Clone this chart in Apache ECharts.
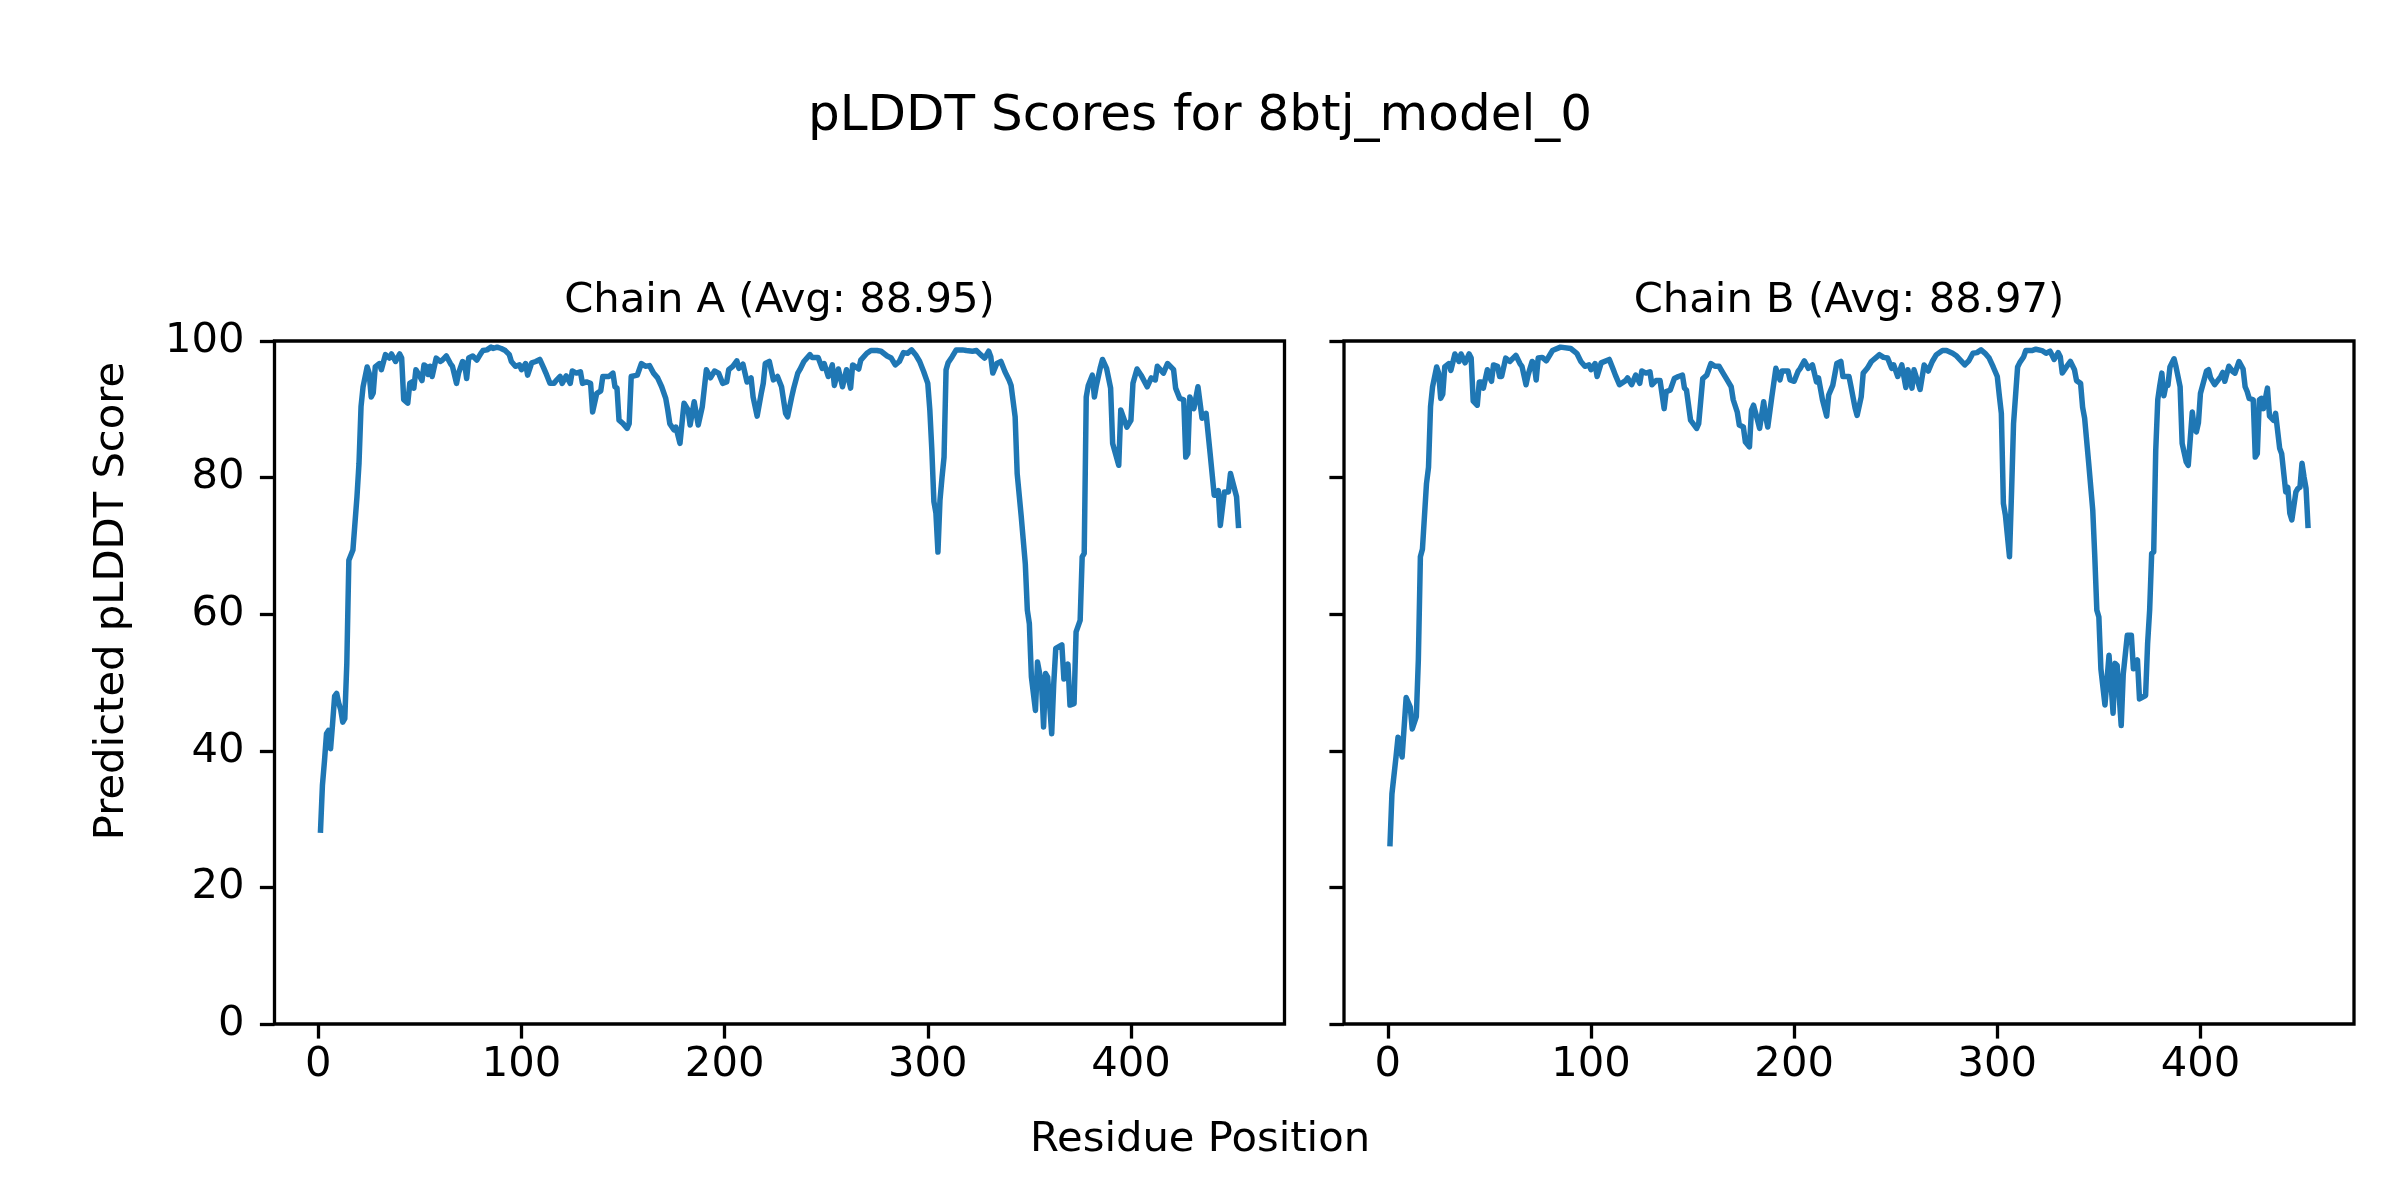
<!DOCTYPE html>
<html>
<head>
<meta charset="utf-8">
<script src="https://cdn.jsdelivr.net/npm/echarts@6/dist/echarts.min.js"></script>
<style>
html,body{margin:0;padding:0;background:#fff;}
#chart{width:2400px;height:1200px;}
</style>
</head>
<body>
<div id="chart"></div>
<script>
const figTitle = 'pLDDT Scores for 8btj_model_0';
const chainTitles = ['Chain A (Avg: 88.95)', 'Chain B (Avg: 88.97)'];
const xLabel = 'Residue Position';
const yLabel = 'Predicted pLDDT Score';
const xTicks = [0, 100, 200, 300, 400];
const yTicks = [0, 20, 40, 60, 80, 100];

// [residue, pLDDT]
const chainA = [[1,28],[2,35],[3,38.5],[4,42.5],[5,43],[6,40.3],[7,44],[8,48],[9,48.4],[10,47],[11,46],[12,44.2],[13,44.7],[14,52.8],[15,67.9],[17,69.4],[19,77.2],[20,82.1],[21,90.4],[22,93.3],[24,96.2],[25,95.3],[26,91.8],[27,92.4],[28,96.2],[30,96.7],[31,95.8],[33,98],[35,97.5],[36,98.1],[38,97],[40,98.1],[41,97.5],[42,91.4],[44,90.9],[45,93.8],[46,94],[47,93.1],[48,95.8],[50,94.8],[51,94.2],[52,96.5],[53,96.3],[54,95.1],[55,96.3],[56,94.8],[58,97.5],[60,97],[61,97.2],[63,97.8],[65,96.7],[66,96.3],[68,93.8],[69,95.3],[71,97],[72,96.7],[73,94.5],[74,97.5],[76,97.8],[78,97.2],[80,98.2],[81,98.6],[83,98.7],[85,99.1],[86,98.9],[88,99.1],[90,98.9],[92,98.6],[94,98],[95,97],[97,96.3],[99,96.5],[100,95.8],[102,96.7],[103,95],[105,96.8],[107,97],[109,97.3],[111,96],[112,95.3],[114,93.8],[116,93.8],[117,94.2],[119,94.8],[120,93.8],[122,94.9],[124,93.8],[125,95.6],[127,95.3],[129,95.5],[130,93.8],[132,94],[134,93.8],[135,89.6],[137,92.3],[139,92.7],[140,94.8],[143,94.8],[145,95.3],[146,93.3],[147,93.1],[148,88.4],[150,87.9],[152,87.2],[153,87.9],[154,94.8],[157,95],[159,96.7],[161,96.3],[163,96.4],[165,95.3],[167,94.6],[169,93.3],[171,91.6],[172,89.9],[173,87.9],[175,87],[176,87.4],[178,85],[180,90.9],[182,89.9],[183,87.7],[185,91.1],[187,87.7],[189,90.4],[191,95.8],[193,94.6],[195,95.6],[197,95.3],[199,93.8],[201,94],[202,95.8],[204,96.3],[206,97.1],[207,96],[209,96.6],[211,94],[213,94.6],[214,91.8],[216,89],[218,92.3],[219,93.8],[220,96.7],[222,97],[224,94.3],[226,94.8],[228,93.3],[230,89.4],[231,88.9],[233,91.8],[234,93.1],[236,95.3],[237,95.8],[239,97],[242,98],[243,97.6],[246,97.6],[248,96],[249,96.7],[251,94.8],[253,96.5],[254,93.5],[256,95.9],[258,93.3],[260,95.8],[262,93.1],[263,96.5],[266,95.9],[267,97.2],[270,98.2],[272,98.6],[275,98.6],[277,98.5],[280,97.8],[282,97.5],[284,96.5],[286,97],[288,98.3],[290,98.2],[292,98.7],[294,98],[296,97],[298,95.5],[300,93.8],[301,89.9],[302,84],[303,76.5],[304,74.8],[305,69.1],[306,76.7],[307,80],[308,83],[309,95.8],[310,96.8],[312,97.7],[314,98.7],[317,98.7],[319,98.6],[322,98.5],[324,98.6],[326,98],[328,97.5],[330,98.5],[331,97.7],[332,95.3],[334,96.7],[336,97],[338,95.5],[340,94.3],[341,93.5],[343,88.9],[344,80.6],[346,74.3],[348,67.4],[349,60.6],[350,58.6],[351,50.8],[353,45.9],[354,53],[356,49.8],[357,43.5],[358,51.3],[359,50.8],[361,42.5],[362,49.8],[363,55],[366,55.5],[367,50.5],[369,52.7],[370,46.7],[372,46.9],[373,57.4],[375,59.1],[376,68.4],[377,68.9],[378,91.8],[379,93.5],[381,95],[382,91.8],[383,93.5],[385,96.2],[386,97.3],[388,96],[390,93.1],[391,85],[394,81.8],[395,89.9],[398,87.4],[400,88.4],[401,93.8],[403,95.9],[405,95],[408,93.3],[410,94.6],[412,94.3],[413,96.3],[416,95.3],[418,96.7],[421,95.8],[422,93.1],[424,91.6],[426,91.4],[427,83],[428,83.5],[429,91.8],[431,90.1],[433,93.3],[435,88.7],[437,89.4],[439,83.5],[441,77.4],[443,78.1],[444,73],[446,77.9],[448,77.9],[449,80.6],[452,77.2],[453,72.6]];

const chainB = [[1,26],[2,33.7],[4,39.1],[5,42],[7,39.1],[9,47.8],[11,46.4],[12,43.2],[14,45],[15,53.3],[16,68.4],[17,69.5],[19,79.1],[20,81.5],[21,90.4],[22,93.3],[24,96.2],[25,95.3],[26,91.6],[27,92.2],[28,96.2],[30,96.7],[31,95.7],[33,98.1],[35,97],[36,98.1],[38,96.8],[40,98.1],[41,97.5],[42,91.2],[44,90.6],[45,94],[46,94],[47,93.1],[49,95.8],[50,94.8],[51,94.1],[52,96.5],[54,96.3],[55,94.8],[56,94.8],[58,97.5],[60,97],[63,97.9],[65,96.7],[66,96.3],[68,93.6],[69,95],[71,97],[72,96.7],[73,94.3],[74,97.5],[76,97.6],[78,97.1],[80,98.1],[81,98.6],[85,99.1],[90,98.9],[93,98.2],[95,97],[97,96.3],[99,96.5],[100,95.8],[102,96.7],[103,94.8],[105,96.8],[109,97.3],[111,95.8],[112,95],[114,93.6],[117,94.2],[118,94.6],[120,93.6],[122,95],[124,93.8],[125,95.6],[127,95.3],[129,95.5],[130,93.6],[132,94.2],[134,94.2],[136,90.1],[137,92.6],[139,92.8],[141,94.5],[143,94.8],[145,95],[146,93.1],[147,92.8],[149,88.4],[150,88],[152,87.2],[153,87.9],[155,94.5],[157,95],[159,96.7],[161,96.3],[163,96.3],[165,95.3],[167,94.3],[169,93.3],[170,91.4],[172,89.6],[173,87.7],[175,87.4],[176,85.2],[178,84.5],[179,89.9],[180,90.6],[182,88.4],[183,87.2],[185,91.1],[186,88.9],[187,87.4],[189,91.8],[191,96],[193,94.3],[194,95.6],[197,95.6],[198,94.3],[200,94.1],[202,95.6],[203,96],[205,97.1],[207,96],[209,96.5],[211,94],[212,94.6],[214,91.3],[216,89],[217,92.1],[219,93.5],[221,96.7],[223,97],[224,94.8],[227,94.8],[228,93.3],[230,90.2],[231,89.1],[233,91.8],[234,95.3],[236,96],[238,97],[240,97.5],[242,98],[244,97.6],[246,97.5],[248,96],[249,96.5],[251,94.8],[253,96.5],[255,93.2],[256,95.8],[258,93.1],[259,95.8],[262,92.9],[264,96.5],[266,95.6],[268,97],[270,98],[273,98.6],[275,98.6],[278,98.2],[280,97.8],[284,96.5],[286,97.1],[288,98.2],[290,98.3],[292,98.7],[294,98.2],[296,97.5],[298,96.2],[300,94.8],[301,92],[302,89.4],[303,76.2],[304,74.5],[306,68.4],[307,77.7],[308,87.9],[310,96.2],[311,96.8],[313,97.7],[314,98.6],[317,98.6],[319,98.8],[322,98.6],[324,98.2],[326,98.5],[328,97.3],[330,98.3],[331,97.7],[332,95.3],[334,96.2],[336,97],[338,95.8],[339,94.2],[341,93.8],[342,90.3],[343,88.7],[345,82.1],[347,75.2],[348,68.4],[349,60.6],[350,59.6],[351,52],[353,46.7],[355,54],[356,49.8],[357,45.5],[358,52.8],[359,52.5],[361,43.7],[362,51.2],[364,56.9],[366,56.9],[367,52],[369,53.3],[370,47.6],[373,48.1],[374,55.7],[375,60.6],[376,68.9],[377,69.1],[378,84],[379,91.4],[380,93.5],[381,95.3],[382,92],[383,93.5],[384,93.5],[385,96.2],[387,97.4],[388,96.2],[390,93.3],[391,85],[393,82.3],[394,81.8],[396,89.6],[397,87.2],[398,86.7],[399,88],[400,92.3],[403,95.6],[404,95.8],[405,94.6],[407,93.6],[410,94.8],[411,95.4],[412,94.1],[414,96.3],[416,95.5],[417,95.3],[419,97],[421,95.9],[422,93.3],[423,92.6],[424,91.6],[426,91.4],[427,83],[428,83.5],[429,91.4],[430,91.6],[431,90.1],[433,93.1],[434,89],[436,88.4],[437,89.4],[439,84.3],[440,83.5],[442,77.9],[443,78.6],[444,74.8],[445,73.8],[447,77.9],[448,78.4],[449,78.6],[450,82.1],[451,80.1],[452,78.4],[453,72.6]];

const FONT = 'DejaVu Sans';
const xMin = 1 - 0.05 * 452, xMax = 453 + 0.05 * 452;
const gridLefts = [274.5, 1344];
const gridTop = 341, gridW = 1010, gridH = 683;

const chart = echarts.init(document.getElementById('chart'), null, {renderer: 'canvas'});

function xAxis(i) {
  return {
    type: 'value', gridIndex: i, min: xMin, max: xMax, position: 'bottom',
    axisLine: {show: false, onZero: false},
    splitLine: {show: false},
    axisTick: {show: true, length: 14.6, lineStyle: {color: '#000', width: 3.3}, customValues: xTicks},
    axisLabel: {show: true, color: '#000', fontFamily: FONT, fontSize: 41.7, margin: 20, customValues: xTicks}
  };
}
function yAxis(i) {
  return {
    type: 'value', gridIndex: i, min: 0, max: 100, interval: 20, position: 'left',
    axisLine: {show: false, onZero: false},
    splitLine: {show: false},
    axisTick: {show: true, length: 14.6, lineStyle: {color: '#000', width: 3.3}},
    axisLabel: {show: i === 0, color: '#000', fontFamily: FONT, fontSize: 41.7, margin: 30}
  };
}

chart.setOption({
  backgroundColor: '#fff',
  animation: false,
  grid: gridLefts.map(l => ({left: l, top: gridTop, width: gridW, height: gridH, show: true,
    borderColor: '#000', borderWidth: 3.3, backgroundColor: 'transparent', containLabel: false})),
  xAxis: [xAxis(0), xAxis(1)],
  yAxis: [yAxis(0), yAxis(1)],
  series: [chainA, chainB].map((d, i) => ({
    type: 'line', xAxisIndex: i, yAxisIndex: i, data: d, showSymbol: false, symbol: 'none',
    lineStyle: {color: '#1f77b4', width: 5.5, join: 'round', cap: 'butt'}, clip: true
  })),
  graphic: [
    {type: 'text', left: 'center', top: 92, style: {text: figTitle, font: '50px "DejaVu Sans"', fill: '#000'}},
    {type: 'text', x: gridLefts[0] + gridW / 2, y: 301, style: {text: chainTitles[0], font: '41.7px "DejaVu Sans"', fill: '#000', textAlign: 'center', textVerticalAlign: 'middle'}},
    {type: 'text', x: gridLefts[1] + gridW / 2, y: 301, style: {text: chainTitles[1], font: '41.7px "DejaVu Sans"', fill: '#000', textAlign: 'center', textVerticalAlign: 'middle'}},
    {type: 'text', x: 1200, y: 1140, style: {text: xLabel, font: '41.7px "DejaVu Sans"', fill: '#000', textAlign: 'center', textVerticalAlign: 'middle'}},
    {type: 'text', x: 112, y: 601, rotation: Math.PI / 2, style: {text: yLabel, font: '41.7px "DejaVu Sans"', fill: '#000', textAlign: 'center', textVerticalAlign: 'middle'}}
  ]
});
</script>
</body>
</html>
